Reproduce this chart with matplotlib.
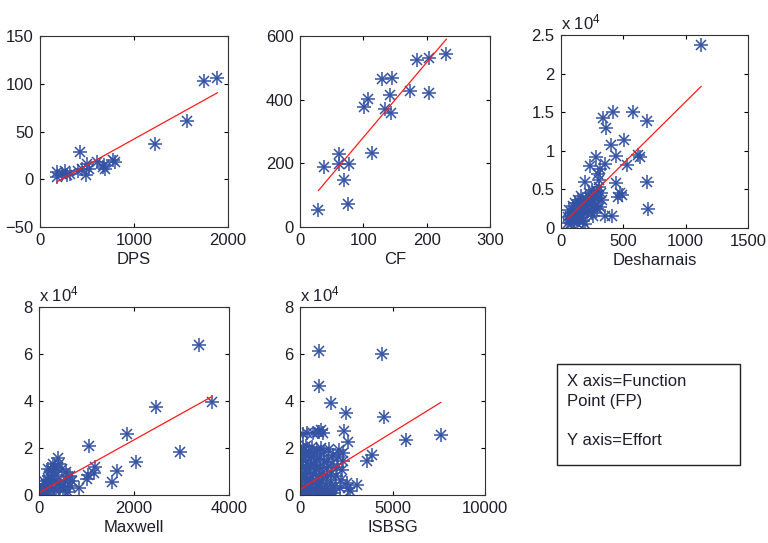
import matplotlib
matplotlib.use("Agg")
import matplotlib.pyplot as plt
from matplotlib.patches import Rectangle
from matplotlib.ticker import FuncFormatter
import numpy as np

plt.rcParams['font.family'] = ['Liberation Sans', 'DejaVu Sans']
plt.rcParams['mathtext.fontset'] = 'custom'
plt.rcParams['mathtext.rm'] = 'Liberation Sans'
plt.rcParams['mathtext.it'] = 'Liberation Sans'

# ---- data: function points (x) vs effort (y) ----
dps_fp = [177, 184, 230, 265, 283, 319, 407, 425, 442, 488, 503, 524, 602, 665, 680,
          690, 772, 796, 1228, 1565, 1742, 1887]
dps_effort = [2.4, 7.7, 5, 8.7, 4.2, 6, 8.7, 28.3, 11, 4.2, 16.4, 11, 18.2, 13, 14.6,
              11, 20.6, 18.2, 37.4, 61, 102.8, 105.6]
dps_fit = (0.0546, -12.5)

cf_fp = [29, 38.6, 61, 61, 76.6, 70, 75.5, 101, 107, 114, 130, 145, 142.6, 133.6, 143,
         174, 185, 204, 204, 231]
cf_effort = [54, 188, 229, 199, 197, 148, 72, 378, 403, 232, 466, 469, 416, 370, 359,
             427, 525, 531, 420, 545]
cf_fit = (2.355, 46)

desh_fp = [1124, 336, 421, 581, 688, 362, 402, 506, 442, 280, 621, 634, 528, 349, 234,
           189, 442, 474, 461, 488, 688, 701, 349, 413, 293, 301, 314, 306, 320, 330,
           286, 300, 270, 255, 240, 310, 290, 265, 230, 215, 200, 185, 170, 160, 150,
           140, 130, 120, 110, 100, 95, 90, 85, 80, 75, 70, 65, 60, 55, 105, 125, 145,
           165, 180, 190, 175, 205, 220, 245, 260, 200, 150, 115, 135, 160, 225, 250]
desh_effort = [23700, 14300, 15050, 15050, 13900, 12900, 10700, 11400, 9300, 9200, 9500,
               9200, 8100, 8300, 8000, 6000, 5800, 4500, 4000, 4300, 5900, 2400, 1600,
               1600, 7000, 6200, 7700, 5300, 4500, 3600, 4800, 3900, 4100, 3500, 3000,
               2700, 2400, 2900, 3900, 3300, 2800, 3200, 2500, 3000, 2400, 2000, 2700,
               1800, 2200, 1500, 2900, 1200, 1900, 700, 1600, 1000, 2300, 1400, 600, 800,
               600, 1100, 1400, 900, 500, 2100, 1900, 2300, 2000, 1500, 3800, 3300, 3200,
               3600, 4100, 4500, 4900]
desh_fit = (16.0, 360)

maxwell_fp = [3373, 3641, 2458, 1845, 2958, 2042, 1049, 1634, 1528, 1180, 1150, 1035,
              1000, 838, 700, 650, 600, 560, 520, 480, 450, 420, 401, 380, 360, 340, 320,
              300, 280, 260, 240, 220, 200, 180, 160, 150, 130, 110, 90, 70, 50, 30, 15,
              350, 500, 600, 250, 420, 550, 180, 300, 100, 650]
maxwell_effort = [63700, 39700, 37500, 25900, 18100, 13900, 21000, 10200, 5700, 12000,
                  9500, 8500, 7000, 2800, 6000, 4000, 7500, 9800, 5000, 11000, 3500,
                  13000, 15600, 8500, 6000, 12000, 3000, 10000, 7000, 10600, 5000, 8000,
                  3000, 6500, 2000, 4500, 1500, 3000, 800, 2000, 500, 1200, 300, 1500,
                  2000, 1200, 1500, 4500, 3000, 11000, 13000, 6000, 8000]
maxwell_fit = (11.23, 1000)

isbsg_fp = [1014, 4438, 1014, 1649, 2500, 4529, 2355, 2572, 5743, 7609, 3895, 3623, 3080,
            2600, 2550, 2700, 150, 400, 700, 950, 1050, 1150, 1250,
            50, 80, 100, 120, 150, 180, 200, 220, 250, 280, 300, 320, 350, 380, 400, 420,
            450, 480, 500, 520, 550, 580, 600, 630, 650, 680, 700, 730, 760, 800, 830,
            860, 880, 900, 930, 960, 1000, 1030, 1060, 1100, 1130, 1160, 1200, 1240,
            1280, 1320, 1360, 1400, 1440, 1480, 1520, 1560, 1600, 1650, 1700, 1750, 1800,
            1850, 1900, 1950, 2000, 2050, 2100, 2150, 2200, 2250, 2300, 2350, 1500, 1650,
            30, 60, 90, 40, 150, 250, 1100]
isbsg_effort = [61200, 59900, 46300, 39200, 34700, 33300, 27300, 22700, 23400, 25500,
                17000, 14400, 4200, 3000, 5200, 1500, 26000, 26500, 26300, 27000, 26800,
                27500, 26500,
                500, 2500, 6000, 9000, 12000, 15000, 19000, 1500, 4000, 7500, 11000, 17000,
                21000, 2500, 5500, 9500, 14000, 18500, 800, 3500, 7000, 12500, 16000,
                20500, 1500, 5000, 9000, 13000, 17500, 300, 3000, 6500, 11000, 15000,
                19000, 1200, 4500, 8000, 12000, 16500, 20000, 2500, 6000, 10000, 14000,
                18500, 700, 3800, 7500, 11500, 15500, 19500, 2000, 5000, 9000, 13000,
                17000, 1000, 4000, 8000, 12000, 16000, 19000, 3000, 6500, 10500, 14500,
                18000, 300, 800, 3000, 8000, 14000, 18000, 20500, 500, 800]
isbsg_fit = (4.86, 2400)

panels = [
    # name, x, y, fit, xlim, xticks, ylim, yticks, scaled, rect(px: l, r, t, b)
    ("DPS", dps_fp, dps_effort, dps_fit, (0, 2000), [0, 1000, 2000],
     (-50, 150), [-50, 0, 50, 100, 150], False, (40, 228, 36, 227)),
    ("CF", cf_fp, cf_effort, cf_fit, (0, 300), [0, 100, 200, 300],
     (0, 600), [0, 200, 400, 600], False, (300, 490, 36, 227)),
    ("Desharnais", desh_fp, desh_effort, desh_fit, (0, 1500), [0, 500, 1000, 1500],
     (0, 25000), [0, 5000, 10000, 15000, 20000, 25000], True, (561, 748, 35, 228)),
    ("Maxwell", maxwell_fp, maxwell_effort, maxwell_fit, (0, 4000), [0, 2000, 4000],
     (0, 80000), [0, 20000, 40000, 60000, 80000], True, (39, 229, 307, 495)),
    ("ISBSG", isbsg_fp, isbsg_effort, isbsg_fit, (0, 10000), [0, 5000, 10000],
     (0, 80000), [0, 20000, 40000, 60000, 80000], True, (300, 485, 307, 495)),
]

W, H = 768, 543
fig = plt.figure(figsize=(W / 100, H / 100), dpi=100)
fig.patch.set_facecolor('white')

star_color = '#3452a4'
text_color = '#1e1e2a'
fs = 12

for name, xs, ys, fit, xlim, xticks, ylim, yticks, scaled, (l, r, t, b) in panels:
    ax = fig.add_axes([l / W, (H - b) / H, (r - l) / W, (b - t) / H])
    xs = np.asarray(xs, dtype=float)
    ys = np.asarray(ys, dtype=float)
    ax.plot(xs, ys, linestyle='none', marker='+', ms=10, mew=1.1, color=star_color)
    ax.plot(xs, ys, linestyle='none', marker='x', ms=6.5, mew=1.1, color=star_color)
    slope, intercept = fit
    lx = np.array([xs.min(), xs.max()])
    ax.plot(lx, slope * lx + intercept, color='#ff1a1a', lw=0.9)
    ax.set_xlim(*xlim)
    ax.set_ylim(*ylim)
    ax.set_xticks(xticks)
    ax.set_yticks(yticks)
    if scaled:
        ax.yaxis.set_major_formatter(FuncFormatter(lambda v, p: f"{v / 1e4:g}"))
        ax.text(0.0, 1.015, r"x 10$^4$", transform=ax.transAxes, ha='left',
                va='bottom', fontsize=fs, color=text_color)
    ax.tick_params(direction='in', length=3, width=0.8, top=True, right=True,
                   labelsize=fs, labelcolor=text_color, pad=4.5)
    for s in ax.spines.values():
        s.set_linewidth(0.8)
        s.set_color('#333333')
    ax.set_xlabel(name, fontsize=fs, color=text_color, labelpad=3)

# annotation box describing the axes
bl, br, bt, bb = 557, 740, 364, 465
fig.patches.append(Rectangle((bl / W, (H - bb) / H), (br - bl) / W, (bb - bt) / H,
                             transform=fig.transFigure, fill=False,
                             edgecolor='#222222', linewidth=1.0))
fig.text(567 / W, (H - 374) / H, "X axis=Function\nPoint (FP)\n\nY axis=Effort",
         ha='left', va='top', fontsize=fs, color=text_color, linespacing=1.4)

fig.savefig("out.png", dpi=100)
